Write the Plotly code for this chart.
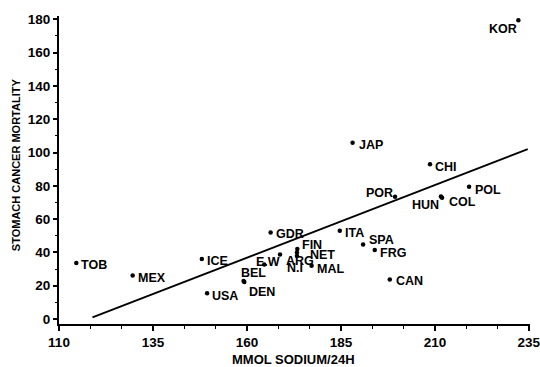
import plotly.graph_objects as go

countries = ["TOB", "MEX", "ICE", "USA", "BEL", "DEN", "GDR", "E.W", "ARG", "FIN", "NET", "N.I",
             "MAL", "ITA", "SPA", "FRG", "CAN", "POR", "HUN", "COL", "POL", "KOR", "JAP", "CHI"]
sodium = [114.6, 129.6, 148.0, 149.4, 159.1, 159.3, 166.3, 164.6, 168.8, 173.4, 173.3, 173.3,
          177.2, 184.7, 190.9, 194.0, 198.0, 199.4, 211.6, 211.9, 219.1, 232.2, 188.1, 208.7]
mortality = [33.6, 26.2, 36.0, 15.4, 22.8, 22.3, 52.0, 32.8, 38.8, 42.0, 40.0, 37.8,
             32.0, 53.0, 44.8, 41.4, 23.8, 73.4, 73.6, 72.8, 79.4, 179.4, 105.8, 93.0]
fit_x = [118.9, 234.7]
fit_y = [1.0, 102.0]
x_ticks = [110, 135, 160, 185, 210, 235]
y_ticks = [0, 20, 40, 60, 80, 100, 120, 140, 160, 180]

# label placement styles: (xanchor, xshift px, yshift px down)
label_style = {
    "TOB": ("left", 4, 2), "MEX": ("left", 4, 3), "ICE": ("left", 4, 2), "USA": ("left", 4, 3),
    "BEL": ("left", -4, -8), "DEN": ("left", 4, 10), "GDR": ("left", 4, 2), "E.W": ("left", -9, -2),
    "ARG": ("left", 5, 7), "FIN": ("left", 4, -4), "NET": ("left", 12, 3), "N.I": ("left", -11, 12),
    "MAL": ("left", 4, 3), "ITA": ("left", 4, 2), "SPA": ("left", 5, -4), "FRG": ("left", 4, 3),
    "CAN": ("left", 5, 2), "POR": ("right", -1, -4), "HUN": ("right", -1, 9), "COL": ("left", 6, 4),
    "POL": ("left", 5, 3), "KOR": ("right", 0, 9), "JAP": ("left", 5, 2), "CHI": ("left", 4, 3),
}

FONT = "Liberation Sans"
fig = go.Figure()
fig.add_trace(go.Scatter(x=fit_x, y=fit_y, mode="lines",
                         line=dict(color="black", width=1.8), hoverinfo="skip"))
fig.add_trace(go.Scatter(x=sodium, y=mortality, mode="markers",
                         marker=dict(color="black", size=4.5), text=countries))

annotations = []
for c, xv, yv in zip(countries, sodium, mortality):
    anc, dx, dy = label_style[c]
    annotations.append(dict(x=xv, y=yv, xref="x", yref="y", text=c, showarrow=False,
                            xanchor=anc, yanchor="middle", xshift=dx, yshift=-dy,
                            font=dict(family=FONT, size=12.5, color="black", weight="bold"),
                            borderpad=0))
annotations.append(dict(text="STOMACH CANCER MORTALITY", xref="paper", yref="paper",
                        x=-0.0913, y=0.519, textangle=-90, showarrow=False,
                        xanchor="center", yanchor="middle",
                        font=dict(family=FONT, size=11, color="black", weight="bold")))
annotations.append(dict(text="MMOL SODIUM/24H", xref="paper", yref="paper",
                        x=0.497, y=-0.115, showarrow=False,
                        xanchor="center", yanchor="middle", borderpad=0,
                        font=dict(family=FONT, size=13, color="black", weight="bold")))

fig.update_layout(
    width=540, height=367,
    margin=dict(l=59, r=10, t=16, b=43),
    paper_bgcolor="white", plot_bgcolor="white",
    showlegend=False,
    annotations=annotations,
    font=dict(family=FONT, color="black"),
)
fig.update_xaxes(range=[110, 235.3], tickvals=x_ticks, showgrid=False, zeroline=False,
                 automargin=False, ticklabeloverflow="allow",
                 showline=True, linecolor="black", linewidth=2,
                 ticks="outside", ticklen=5, tickwidth=1.5, tickcolor="black",
                 minor=dict(dtick=25/3, tick0=110, ticks="outside", ticklen=3, tickcolor="black", tickwidth=1),
                 tickfont=dict(family=FONT, size=13.5, color="black", weight="bold"))
fig.update_yaxes(range=[-3, 182], tickvals=y_ticks, showgrid=False, zeroline=False,
                 automargin=False,
                 showline=True, linecolor="black", linewidth=2,
                 ticks="outside", ticklen=4, tickwidth=1.5, tickcolor="black",
                 minor=dict(dtick=10, tick0=0, ticks="outside", ticklen=2, tickcolor="black", tickwidth=1),
                 tickfont=dict(family=FONT, size=13.5, color="black", weight="bold"))

fig.write_html("out.html", config={"displayModeBar": False},
               post_script="document.body.style.margin='0';")
